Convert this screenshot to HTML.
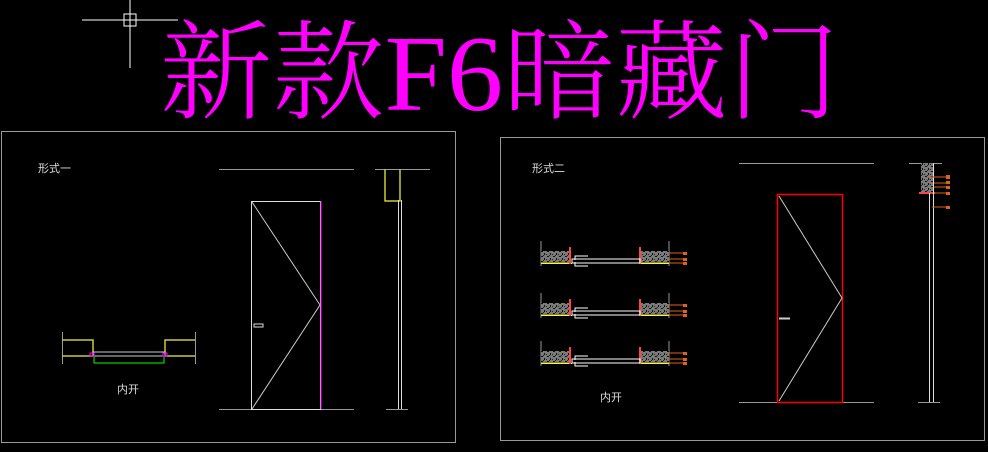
<!DOCTYPE html>
<html><head><meta charset="utf-8"><style>
html,body{margin:0;padding:0;background:#000;}
svg{display:block}
.t{font-family:"Liberation Serif","Noto Serif CJK SC",serif;fill:#ff00ff;font-weight:300}
.l{font-family:"Liberation Sans","Noto Sans CJK SC",sans-serif;fill:#ddd;font-size:11px}
</style></head><body>
<svg width="988" height="452" viewBox="0 0 988 452" xmlns="http://www.w3.org/2000/svg">
<defs>
<pattern id="h" width="6" height="5" patternUnits="userSpaceOnUse">
<rect width="6" height="5" fill="#7a7a7a"/>
<rect x="1" y="1" width="2" height="1" fill="#111"/><rect x="4" y="3" width="1" height="2" fill="#111"/><rect x="0" y="4" width="1" height="1" fill="#222"/><rect x="3" y="0" width="1" height="1" fill="#222"/>
</pattern>
<g id="plan">
<line x1="541" y1="241" x2="541" y2="266" stroke="#999"/>
<line x1="669" y1="241" x2="669" y2="266" stroke="#999"/>
<rect x="541" y="251" width="29" height="12" fill="url(#h)"/>
<rect x="641" y="251" width="28" height="12" fill="url(#h)"/>
<line x1="541" y1="263.5" x2="572" y2="263.5" stroke="#ff0"/>
<line x1="640" y1="263.5" x2="669" y2="263.5" stroke="#ff0"/>
<line x1="570" y1="247" x2="570" y2="264" stroke="#f44" stroke-width="2"/>
<line x1="640" y1="247" x2="640" y2="264" stroke="#f44" stroke-width="2"/>
<rect x="572" y="259" width="68" height="4" fill="none" stroke="#fff"/>
<path d="M588 256H575V260M588 266H575V262" fill="none" stroke="#fff"/>
<path d="M669 253H686M669 259H686M669 263H686" stroke="#e06020"/>
<rect x="683" y="252" width="4" height="3" fill="#e06020"/><rect x="683" y="258" width="4" height="3" fill="#e06020"/><rect x="683" y="262" width="4" height="3" fill="#e06020"/>
</g>
</defs>
<rect width="988" height="452" fill="#000"/>
<line x1="82" y1="20" x2="178" y2="20" stroke="#fff"/>
<line x1="130" y1="0" x2="130" y2="68" stroke="#fff"/>
<rect x="124" y="14" width="12" height="12" fill="none" stroke="#fff"/>
<text class="t" x="160" y="110" font-size="108" textLength="680" lengthAdjust="spacingAndGlyphs">新款F6暗藏门</text>
<rect x="1.5" y="131.5" width="454" height="311" fill="none" stroke="#999"/>
<text class="l" x="38" y="172">形式一</text>
<line x1="219" y1="169.5" x2="354" y2="169.5" stroke="#999"/>
<line x1="219" y1="409.5" x2="354" y2="409.5" stroke="#999"/>
<rect x="251.5" y="201.5" width="69" height="208" fill="none" stroke="#ddd"/>
<line x1="321" y1="201" x2="321" y2="409" stroke="#f0f"/>
<path d="M252 202L320 305L252 409" fill="none" stroke="#ccc"/>
<rect x="254" y="324" width="9" height="3" fill="none" stroke="#ddd"/>
<line x1="375" y1="169.5" x2="430" y2="169.5" stroke="#999"/>
<path d="M385 169V201H400V169" fill="none" stroke="#cc3" stroke-width="1.5"/>
<line x1="398.5" y1="200" x2="398.5" y2="409" stroke="#ddd"/>
<line x1="401.5" y1="200" x2="401.5" y2="409" stroke="#ddd"/>
<line x1="386" y1="409.5" x2="408" y2="409.5" stroke="#999"/>
<line x1="62.5" y1="332" x2="62.5" y2="364" stroke="#999"/>
<line x1="195.5" y1="332" x2="195.5" y2="364" stroke="#999"/>
<path d="M62 340H93V354M62 356H93M195 340H165V354M195 356H165" fill="none" stroke="#cc3" stroke-width="1.5"/>
<rect x="93" y="352" width="72" height="4" fill="none" stroke="#ccc"/>
<path d="M94 356V363H164V356" fill="none" stroke="#0f0"/>
<rect x="90" y="353" width="4" height="3" fill="none" stroke="#f0f"/>
<rect x="163" y="353" width="4" height="3" fill="none" stroke="#f0f"/>
<text class="l" x="117" y="393">内开</text>
<rect x="500.5" y="137.5" width="484" height="303" fill="none" stroke="#999"/>
<text class="l" x="532" y="172">形式二</text>
<use href="#plan"/>
<use href="#plan" y="52"/>
<use href="#plan" y="100"/>
<text class="l" x="600" y="401">内开</text>
<line x1="739" y1="163.5" x2="874" y2="163.5" stroke="#999"/>
<line x1="739" y1="402.5" x2="874" y2="402.5" stroke="#999"/>
<rect x="777.5" y="194.5" width="65" height="208" fill="none" stroke="#f00" stroke-width="1.5"/>
<path d="M779 196L842 298L779 401" fill="none" stroke="#ccc"/>
<line x1="779" y1="318.5" x2="790" y2="318.5" stroke="#ccc" stroke-width="2"/>
<line x1="909" y1="163.5" x2="942" y2="163.5" stroke="#999"/>
<rect x="921" y="163" width="12" height="30" fill="url(#h)"/>
<line x1="919" y1="193" x2="935" y2="193" stroke="#f44" stroke-width="2"/>
<line x1="929.5" y1="193" x2="929.5" y2="402" stroke="#ddd"/>
<line x1="933.5" y1="163" x2="933.5" y2="402" stroke="#ddd"/>
<line x1="918" y1="402.5" x2="940" y2="402.5" stroke="#999"/>
<path d="M929 177H949M934 183H949M934 187H949M934 193H949M932 207H949" stroke="#e06020"/>
<rect x="946" y="175" width="4" height="4" fill="#e06020"/><rect x="946" y="181" width="4" height="3" fill="#e06020"/><rect x="946" y="186" width="4" height="3" fill="#e06020"/><rect x="946" y="192" width="4" height="3" fill="#e06020"/><rect x="946" y="206" width="4" height="3" fill="#e06020"/>
</svg>
</body></html>
